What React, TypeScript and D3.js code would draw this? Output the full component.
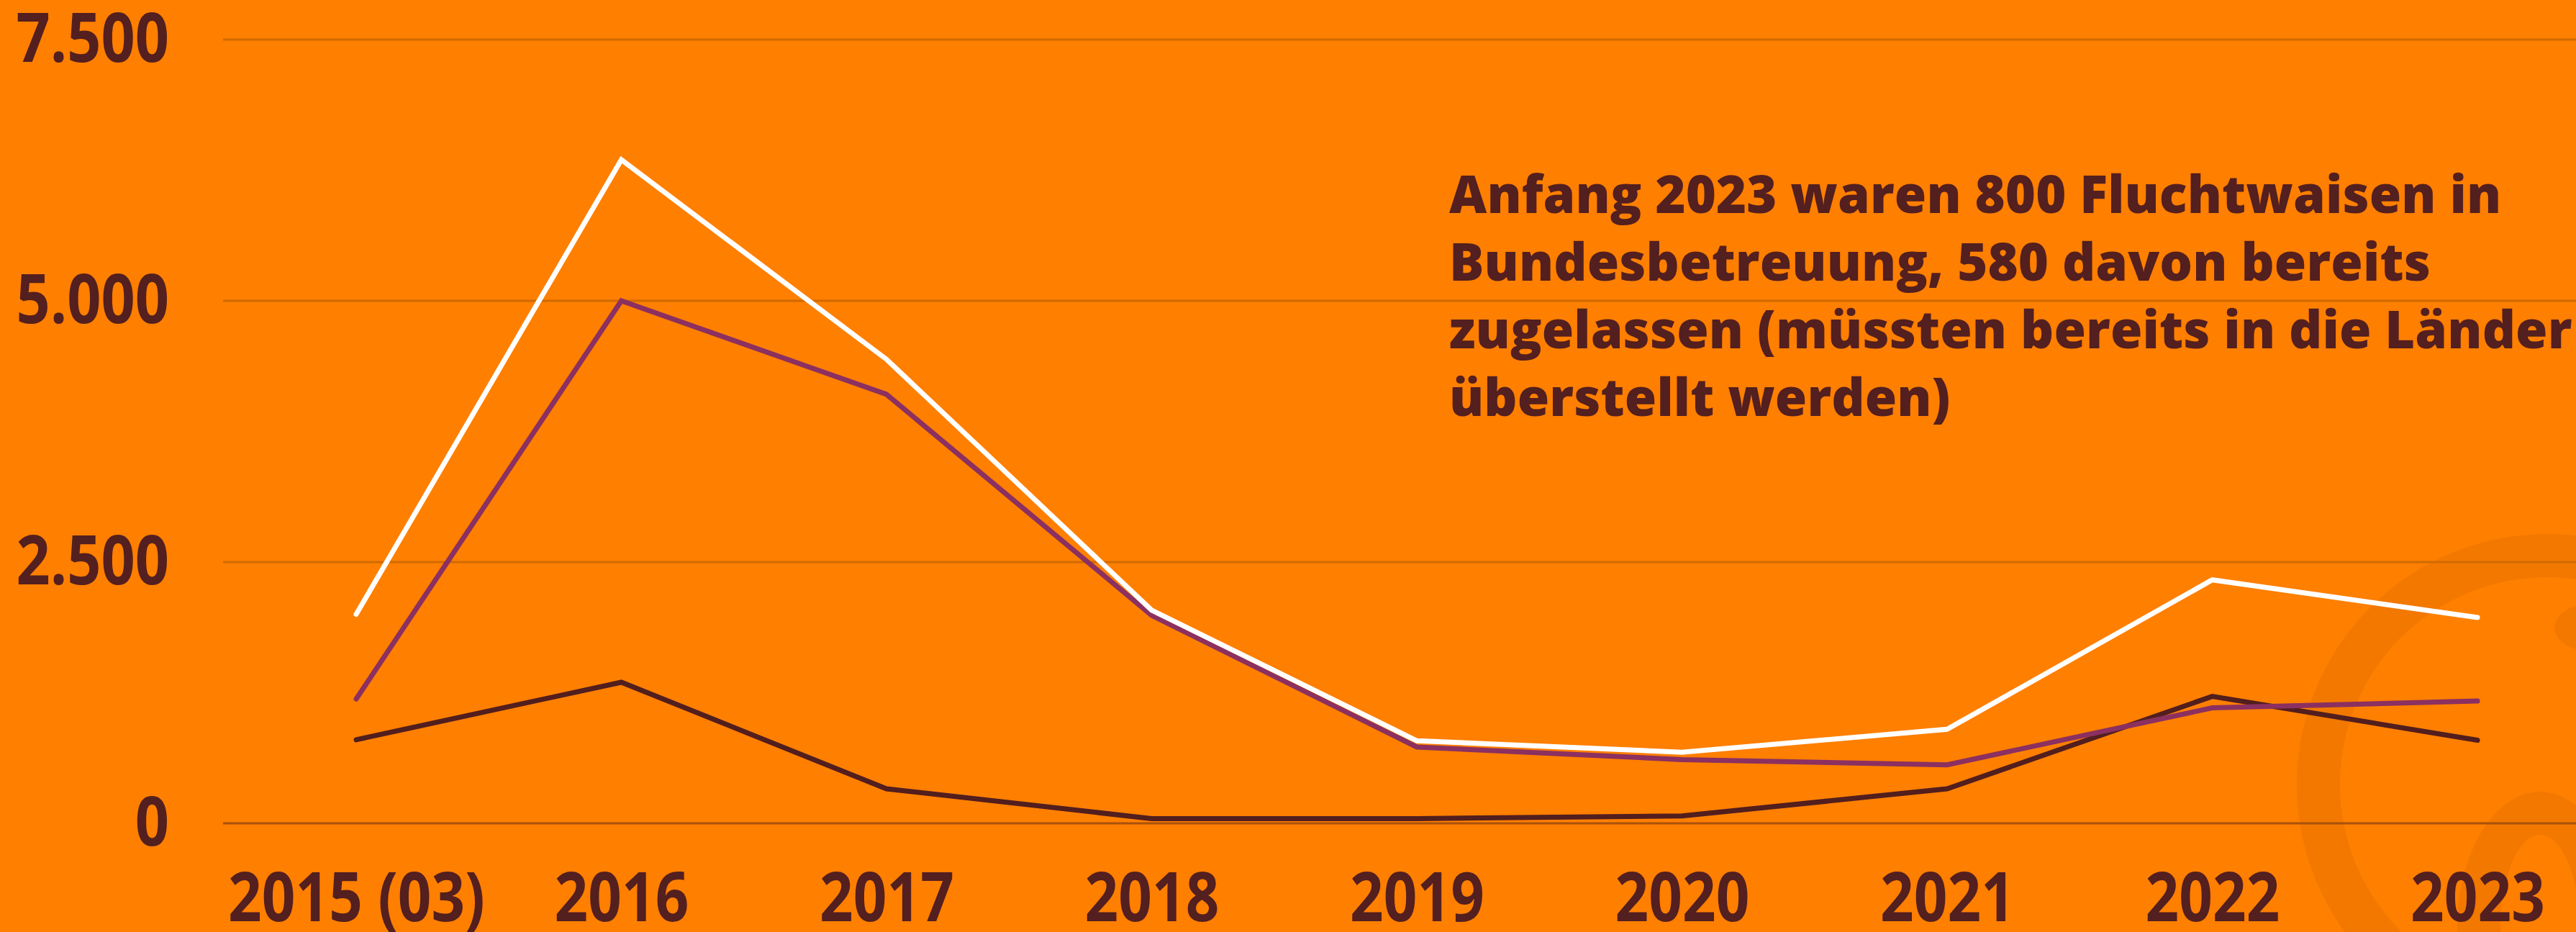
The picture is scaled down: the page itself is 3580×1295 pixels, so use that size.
import React, { useRef, useEffect } from "react";
import { select, scaleLinear, scalePoint, line, axisLeft, axisBottom, formatLocale } from "d3";

// Daten
const years = ["2015 (03)", "2016", "2017", "2018", "2019", "2020", "2021", "2022", "2023"];
const gesamt = [2000, 6350, 4440, 2040, 790, 680, 900, 2330, 1970];
const zugelassen = [1190, 5000, 4105, 1990, 730, 610, 560, 1105, 1170];
const bund = [800, 1350, 330, 45, 45, 70, 330, 1215, 795];
const yTicks = [0, 2500, 5000, 7500];
const note = [
  "Anfang 2023 waren 800 Fluchtwaisen in",
  "Bundesbetreuung, 580 davon bereits",
  "zugelassen (müssten bereits in die Länder",
  "überstellt werden)",
];

const W = 3580;
const H = 1295;
const BG = "#ff7f00";
const TXT = "#531f1f";
const FONT = "'Open Sans', 'Noto Sans', sans-serif";

const de = formatLocale({ decimal: ",", thousands: ".", grouping: [3], currency: ["", " €"] });

function App() {
  const svgRef = useRef(null);

  useEffect(() => {
    document.body.style.margin = "0";
    const svg = select(svgRef.current);

    const xScale = scalePoint().domain(years).range([495, 3443]);
    const yScale = scaleLinear().domain([0, 7500]).range([1144, 55]);

    // Gitterlinien
    svg
      .select(".grid")
      .selectAll("line")
      .data(yTicks)
      .join("line")
      .attr("x1", 310)
      .attr("x2", W)
      .attr("y1", (d) => yScale(d))
      .attr("y2", (d) => yScale(d))
      .attr("stroke", (d) => (d === 0 ? "#a8520c" : "#d06a00"))
      .attr("stroke-width", 3);

    const yAxis = axisLeft(yScale).tickValues(yTicks).tickSize(0).tickPadding(0).tickFormat(de.format(","));
    svg
      .select(".y-axis")
      .attr("transform", "translate(235,0)")
      .call(yAxis)
      .call((g) => g.select(".domain").remove())
      .selectAll("text")
      .attr("font-size", 95)
      .attr("font-family", FONT)
      .attr("font-weight", 700)
      .attr("fill", TXT)
      .attr("transform", "scale(0.87,1)");

    const xAxis = axisBottom(xScale).tickSize(0).tickPadding(0);
    svg
      .select(".x-axis")
      .attr("transform", "translate(0,1280)")
      .call(xAxis)
      .call((g) => g.select(".domain").remove())
      .selectAll("text")
      .attr("dy", 0)
      .attr("font-size", 95)
      .attr("font-family", FONT)
      .attr("font-weight", 700)
      .attr("fill", TXT)
      .attr("transform", "scale(0.86,1)");

    const pathGen = line().x((d, i) => xScale(years[i])).y((d) => yScale(d));
    const series = [
      { values: bund, color: "#521e1e" },
      { values: zugelassen, color: "#8b3060" },
      { values: gesamt, color: "#ffffff" },
    ];
    svg
      .select(".lines")
      .selectAll("path")
      .data(series)
      .join("path")
      .attr("d", (s) => pathGen(s.values))
      .attr("fill", "none")
      .attr("stroke", (s) => s.color)
      .attr("stroke-width", 7)
      .attr("stroke-linecap", "round")
      .attr("stroke-linejoin", "miter");

    svg
      .select(".note")
      .selectAll("text")
      .data(note)
      .join("text")
      .attr("x", 2014)
      .attr("y", (d, i) => 296 + i * 94)
      .attr("font-size", 72)
      .attr("font-family", FONT)
      .attr("font-weight", 800)
      .attr("letter-spacing", 0.1)
      .attr("fill", TXT)
      .text((d) => d);
  }, []);

  return (
    <svg ref={svgRef} width={W} height={H} style={{ display: "block", position: "absolute", left: 0, top: 0 }}>
      <rect width={W} height={H} fill={BG} />
      <g className="mark" fill="#000" fillOpacity={0.05}>
        <circle cx={3540} cy={1090} r={318} fill="none" stroke="#000" strokeOpacity={0.05} strokeWidth={60} />
        <ellipse cx={3605} cy={872} rx={55} ry={34} />
        <path
          fillRule="evenodd"
          d="M3415,1290 a115,190 0 1,0 230,0 a115,190 0 1,0 -230,0 Z M3475,1290 a55,130 0 1,0 110,0 a55,130 0 1,0 -110,0 Z"
        />
      </g>
      <g className="grid" />
      <g className="y-axis" />
      <g className="x-axis" />
      <g className="lines" />
      <g className="note" />
    </svg>
  );
}

export default App;
